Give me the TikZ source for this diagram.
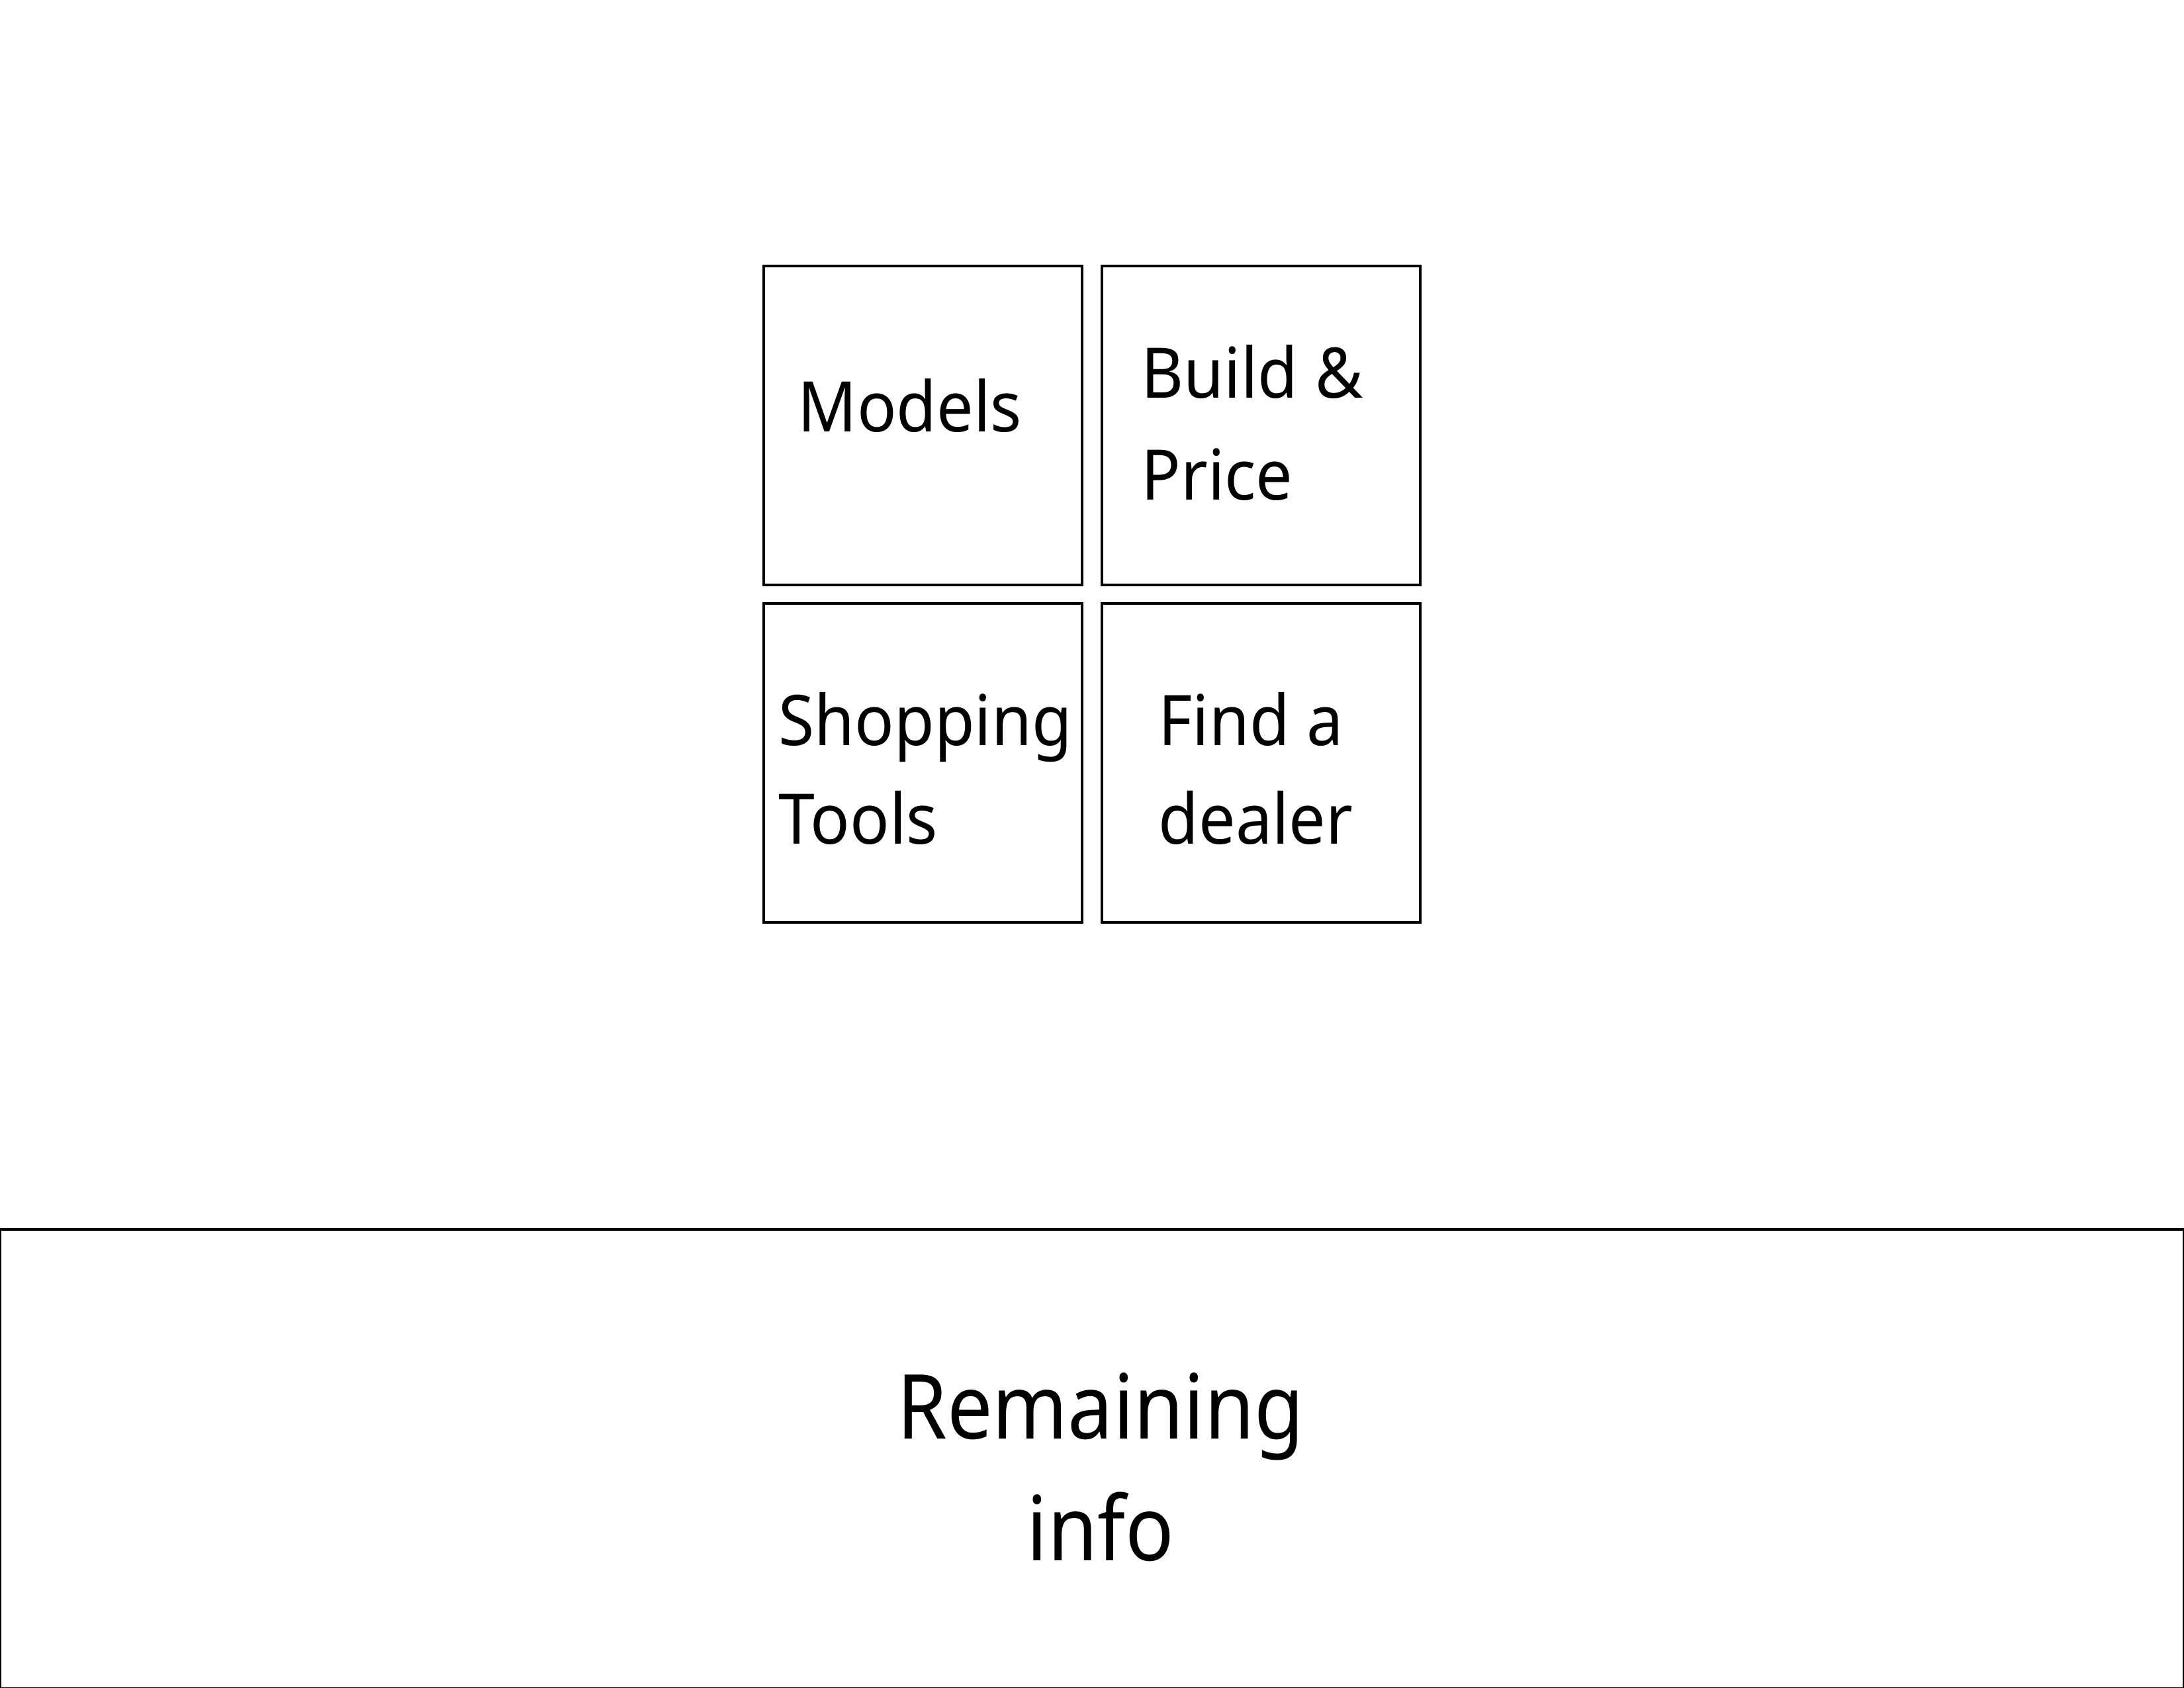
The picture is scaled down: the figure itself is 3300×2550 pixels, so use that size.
\documentclass[tikz,border=0pt]{standalone}
\usepackage{fontspec}
\setmainfont{Noto Sans}[FakeStretch=0.9]
\newfontfamily\tilefont{Noto Sans}[FakeStretch=0.935]
\begin{document}
\begin{tikzpicture}[x=0.01cm,y=-0.01cm,
  tile/.style={draw=black,line width=1.1pt,minimum width=4.81cm,minimum height=4.81cm,inner sep=0pt},
  small/.style={anchor=base west,inner sep=0pt,font=\tilefont\fontsize{30}{36}\selectfont},
  big/.style={anchor=base,inner sep=0pt,font=\fontsize{38.5}{46}\selectfont}]
\useasboundingbox (0,0) rectangle (3300,2550);
\node[tile] (models) at (1394.5,643) {};
\node[tile] (build) at (1905.5,643) {};
\node[tile] (shop) at (1394.5,1153) {};
\node[tile] (find) at (1905.5,1153) {};
\node[draw=black,line width=1.1pt,minimum width=32.98cm,minimum height=6.94cm,inner sep=0pt] (rest) at (1650,2205) {};
\node[small] (t1) at (1205,652) {Models};
\node[small] (t2a) at (1724,601) {Build \&};
\node[small] (t2b) at (1724,755) {Price};
\node[small] (t3a) at (1176,1126) {Shopping};
\node[small] (t3b) at (1176,1275) {Tools};
\node[small] (t4a) at (1750,1126) {Find a};
\node[small] (t4b) at (1750,1275) {dealer};
\node[big] (t5a) at (1663,2174) {Remaining};
\node[big] (t5b) at (1663,2358) {info};
\end{tikzpicture}
\end{document}
